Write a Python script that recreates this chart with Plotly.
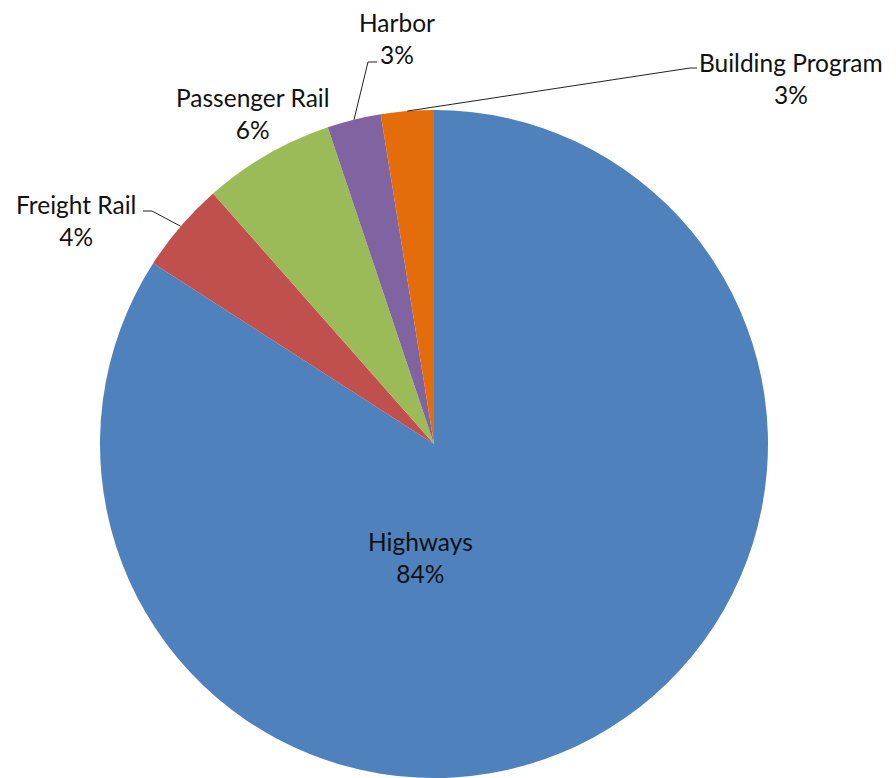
import math
import plotly.graph_objects as go

# ---- data ----
categories = ["Highways", "Freight Rail", "Passenger Rail", "Harbor", "Building Program"]
values = [84.1, 4.4, 6.35, 2.6, 2.55]
colors = ["#4F81BD", "#C0504D", "#9BBB59", "#8064A2", "#E46C0A"]

W, H = 896, 778
CX, CY, R = 434, 444, 334  # pie centre / radius in pixels

# label placement (pixels) and leader-line elbows (layout only)
label_pos = {
    "Highways": (420, 557),
    "Freight Rail": (76, 221),
    "Passenger Rail": (252, 113),
    "Harbor": (397, 38),
    "Building Program": (791, 78),
}
leader = {
    "Freight Rail": [(152, 211), (143, 211)],
    "Harbor": [(368, 62), (377, 62)],
    "Building Program": [(690, 68), (697, 68)],
}

def px(x):
    return x / W

def py(y):
    return 1 - y / H

total = sum(values)

fig = go.Figure(go.Pie(
    labels=categories,
    values=values,
    sort=False,
    direction="clockwise",
    rotation=0,
    marker=dict(colors=colors, line=dict(width=0)),
    textinfo="none",
    hoverinfo="label+percent",
    showlegend=False,
    domain=dict(x=[(CX - R) / W, (CX + R) / W], y=[0, 2 * R / H]),
))

annotations = []
shapes = []
cum = 0.0
for cat, v in zip(categories, values):
    mid = (cum + v / 2) / total
    cum += v
    pct = round(v / total * 100)
    lx, ly = label_pos[cat]
    annotations.append(dict(
        x=px(lx), y=py(ly), xref="paper", yref="paper",
        text=f"{cat}<br>{pct}%", showarrow=False,
        xanchor="center", yanchor="middle", align="center",
        font=dict(family="Lato, 'Open Sans', sans-serif", size=24.5, color="#111111"),
    ))
    if cat in leader:
        th = 2 * math.pi * mid
        ex = CX + R * math.sin(th)
        ey = CY - R * math.cos(th)
        pts = [(ex, ey)] + leader[cat]
        path = "M " + " L ".join(f"{px(a)},{py(b)}" for a, b in pts)
        shapes.append(dict(type="path", xref="paper", yref="paper", path=path,
                           line=dict(color="#222222", width=1)))

fig.update_layout(
    width=W, height=H,
    margin=dict(l=0, r=0, t=0, b=0),
    paper_bgcolor="white", plot_bgcolor="white",
    annotations=annotations, shapes=shapes,
)

fig.write_html("out.html", config={"displayModeBar": False},
               post_script="document.body.style.margin='0';")
